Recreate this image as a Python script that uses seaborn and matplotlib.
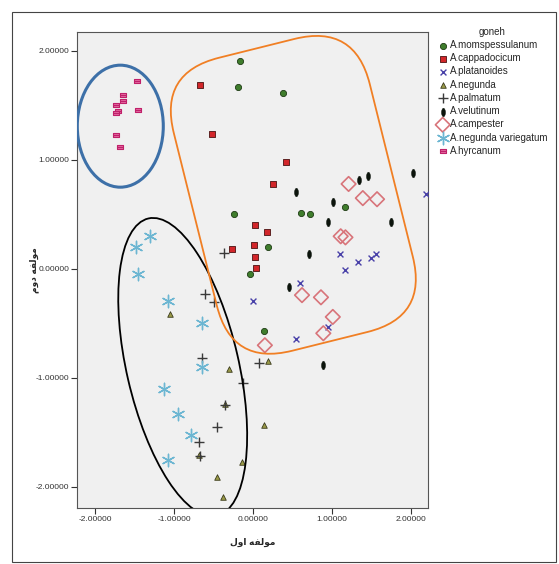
import numpy as np
import pandas as pd
import matplotlib
matplotlib.use('Agg')
import matplotlib.pyplot as plt
import seaborn as sns
from matplotlib.path import Path
from matplotlib.patches import Ellipse, FancyBboxPatch, Rectangle
from matplotlib.transforms import Affine2D
from matplotlib.ticker import FormatStrFormatter

# ---- داده ها (خوانده شده از تصویر) ----
momspessulanum_x = [-0.16, -0.19, 0.38, -0.24, 0.61, 0.72, 1.16, 0.19, -0.04, 0.14]
momspessulanum_y = [1.91, 1.67, 1.61, 0.50, 0.51, 0.50, 0.57, 0.20, -0.05, -0.57]

cappadocicum_x = [-0.67, -0.52, 0.42, 0.25, 0.03, 0.18, -0.26, 0.01, 0.02, 0.04]
cappadocicum_y = [1.69, 1.24, 0.98, 0.78, 0.40, 0.34, 0.18, 0.22, 0.11, 0.01]

platanoides_x = [1.10, 1.16, 1.33, 1.49, 1.56, 0.60, 0.00, 0.95, 0.54, 2.19]
platanoides_y = [0.14, -0.01, 0.06, 0.10, 0.14, -0.13, -0.29, -0.53, -0.64, 0.69]

negunda_x = [-1.05, -0.30, -0.36, 0.14, -0.14, -0.45, -0.38, 0.19, -0.68]
negunda_y = [-0.41, -0.92, -1.24, -1.43, -1.77, -1.91, -2.09, -0.84, -1.71]

palmatum_x = [-0.37, -0.61, -0.50, -0.65, -0.13, -0.46, -0.68, -0.67, 0.07, -0.36]
palmatum_y = [0.15, -0.23, -0.30, -0.82, -1.05, -1.45, -1.59, -1.72, -0.86, -1.25]

velutinum_x = [1.34, 1.46, 2.03, 0.55, 1.01, 0.95, 1.75, 0.71, 0.46, 0.89]
velutinum_y = [0.82, 0.85, 0.88, 0.71, 0.61, 0.43, 0.43, 0.14, -0.17, -0.88]

campester_x = [1.21, 1.39, 1.57, 1.11, 1.17, 0.62, 0.86, 1.01, 0.89, 0.15]
campester_y = [0.78, 0.65, 0.64, 0.30, 0.29, -0.24, -0.26, -0.44, -0.59, -0.70]

variegatum_x = [-1.30, -1.48, -1.46, -1.08, -0.65, -0.65, -1.13, -0.95, -0.79, -1.07]
variegatum_y = [0.30, 0.20, -0.05, -0.29, -0.50, -0.90, -1.10, -1.33, -1.52, -1.75]

hyrcanum_x = [-1.47, -1.64, -1.64, -1.73, -1.71, -1.73, -1.45, -1.74, -1.68]
hyrcanum_y = [1.72, 1.60, 1.54, 1.50, 1.45, 1.43, 1.46, 1.23, 1.12]

species = ['A.momspessulanum', 'A.cappadocicum', 'A.platanoides', 'A.negunda',
           'A.palmatum', 'A.velutinum', 'A.campester', 'A.negunda variegatum',
           'A.hyrcanum']
xs = [momspessulanum_x, cappadocicum_x, platanoides_x, negunda_x, palmatum_x,
      velutinum_x, campester_x, variegatum_x, hyrcanum_x]
ys = [momspessulanum_y, cappadocicum_y, platanoides_y, negunda_y, palmatum_y,
      velutinum_y, campester_y, variegatum_y, hyrcanum_y]

x_label = 'مولفه اول'
y_label = 'مولفه دوم'
legend_title = 'goneh'
tick_values = [-2, -1, 0, 1, 2]

df = pd.concat([pd.DataFrame({'x': x, 'y': y, 'goneh': s})
                for s, x, y in zip(species, xs, ys)], ignore_index=True)

# نشانگرهای سفارشی
oval = Path.unit_circle().transformed(Affine2D().scale(0.45, 1.0))
bar_verts = [(-1, -0.6), (1, -0.6), (1, 0.6), (-1, 0.6), (-1, -0.6), (-1, 0), (1, 0)]
bar_codes = [Path.MOVETO, Path.LINETO, Path.LINETO, Path.LINETO, Path.CLOSEPOLY,
             Path.MOVETO, Path.LINETO]
hyr_marker = Path(bar_verts, bar_codes)

styles = {
    'A.momspessulanum': dict(marker='o', s=20, color='#3f7d2c', edgecolor='#1e3a14', linewidth=0.6),
    'A.cappadocicum': dict(marker='s', s=24, color='#d2262a', edgecolor='#4a1212', linewidth=0.6),
    'A.platanoides': dict(marker='x', s=18, color='#4840a8', linewidth=1.0),
    'A.negunda': dict(marker='^', s=16, color='#9a9a48', edgecolor='#3a3a1a', linewidth=0.6),
    'A.palmatum': dict(marker='+', s=45, color='#3a3a3a', linewidth=1.0),
    'A.velutinum': dict(marker=oval, s=36, color='#0c140c', edgecolor='#0c140c', linewidth=0.4),
    'A.campester': dict(marker='D', s=55, facecolor='none', edgecolor='#d8747a', linewidth=1.2),
    'A.negunda variegatum': dict(marker=(6, 2, 0), s=80, color='#6cb6d2', linewidth=1.0),
    'A.hyrcanum': dict(marker=hyr_marker, s=24, facecolor='#e36aa0', edgecolor='#c0206a', linewidth=0.8),
}

# شکل دهی ساده حروف عربی/فارسی برای نمایش درست
FORMS = {
    'ا': ('\uFE8D', '\uFE8E', None, None),
    'د': ('\uFEA9', '\uFEAA', None, None),
    'و': ('\uFEED', '\uFEEE', None, None),
    'ل': ('\uFEDD', '\uFEDE', '\uFEDF', '\uFEE0'),
    'م': ('\uFEE1', '\uFEE2', '\uFEE3', '\uFEE4'),
    'ف': ('\uFED1', '\uFED2', '\uFED3', '\uFED4'),
    'ه': ('\uFEE9', '\uFEEA', '\uFEEB', '\uFEEC'),
}

def shape_rtl(text):
    out = []
    for i, ch in enumerate(text):
        if ch not in FORMS:
            out.append(ch)
            continue
        prev = text[i - 1] if i > 0 else ''
        nxt = text[i + 1] if i + 1 < len(text) else ''
        iso, fin, ini, med = FORMS[ch]
        j_prev = prev in FORMS and FORMS[prev][2] is not None
        j_next = nxt in FORMS and ini is not None
        if j_prev and j_next:
            out.append(med)
        elif j_prev:
            out.append(fin)
        elif j_next:
            out.append(ini)
        else:
            out.append(iso)
    return ''.join(reversed(out))

sns.set_style('white')
plt.rcParams['font.family'] = ['Liberation Sans', 'DejaVu Sans']

W, H, DPI = 559, 564, 100
fig = plt.figure(figsize=(W / DPI, H / DPI), dpi=DPI)
ax_l, ax_r, ax_t, ax_b = 77, 428, 32, 508
ax = fig.add_axes([ax_l / W, 1 - ax_b / H, (ax_r - ax_l) / W, (ax_b - ax_t) / H])
ax.set_facecolor('#f0f0f0')

for sp in species:
    sub = df[df['goneh'] == sp]
    sns.scatterplot(data=sub, x='x', y='y', ax=ax, label=sp, legend=False, zorder=3,
                    **styles[sp])

ax.set_xlim(-2.228, 2.215)
ax.set_ylim(-2.193, 2.174)
ax.set_xticks(tick_values)
ax.set_yticks(tick_values)
ax.xaxis.set_major_formatter(FormatStrFormatter('%.5f'))
ax.yaxis.set_major_formatter(FormatStrFormatter('%.5f'))
ax.tick_params(axis='both', labelsize=6, colors='#333333', length=4, width=0.8,
               direction='out', bottom=True, left=True, pad=1.5)
for side in ['top', 'right', 'left', 'bottom']:
    ax.spines[side].set_color('#555555')
    ax.spines[side].set_linewidth(0.8)
ax.set_xlabel(shape_rtl(x_label), fontsize=6.5, fontweight='bold', labelpad=11)
ax.set_ylabel(shape_rtl(y_label), fontsize=6.5, fontweight='bold', labelpad=-2)

# بیضی ها و کادر نارنجی (اندازه بر حسب پیکسل)
x0, x1 = ax.get_xlim()
y0, y1 = ax.get_ylim()
ppx = (ax_r - ax_l) / (x1 - x0)
ppy = (ax_b - ax_t) / (y1 - y0)

def px_tr(cx, cy, rot=0):
    return Affine2D().rotate_deg(rot).scale(1 / ppx, 1 / ppy).translate(cx, cy) + ax.transData

ax.add_patch(Ellipse((0, 0), 86, 122, fill=False, edgecolor='#3d70a8', linewidth=2.2,
                     transform=px_tr(-1.68, 1.31), zorder=4))
ax.add_patch(Ellipse((0, 0), 305, 112, angle=-77, fill=False, edgecolor='black',
                     linewidth=1.3, transform=px_tr(-0.89, -0.90), zorder=4))
ax.add_patch(FancyBboxPatch((-101, -151), 202, 302,
                            boxstyle='round,pad=0,rounding_size=62', fill=False,
                            edgecolor='#f07f24', linewidth=1.3,
                            transform=px_tr(0.51, 0.68, 14), zorder=4))

leg = fig.legend(loc='upper left', bbox_to_anchor=(433 / W, 1 - 22 / H), frameon=False,
                 title=legend_title, fontsize=7, title_fontsize=7,
                 handletextpad=0.2, labelspacing=0.33, handlelength=1.0, borderpad=0)

# کادر بیرونی تصویر
fig.patches.append(Rectangle((12 / W, 2 / H), 544 / W, 550 / H, transform=fig.transFigure,
                             fill=False, edgecolor='#444444', linewidth=0.8))

fig.savefig('out.png', dpi=DPI)
